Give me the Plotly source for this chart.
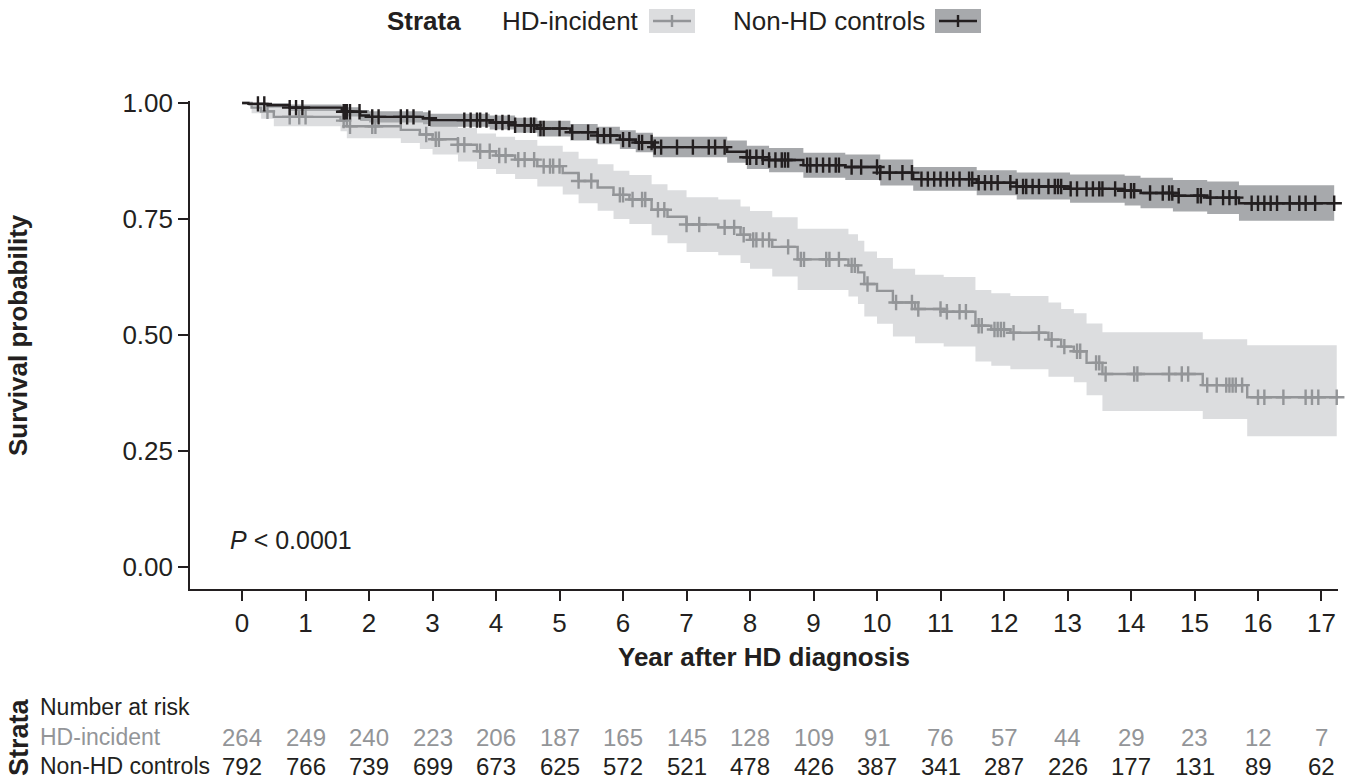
import numpy as np
import plotly.graph_objects as go

# ---------------- data ----------------
years = list(range(0, 18))
risk_hd = [264, 249, 240, 223, 206, 187, 165, 145, 128, 109, 91, 76, 57, 44, 29, 23, 12, 7]
risk_ctrl = [792, 766, 739, 699, 673, 625, 572, 521, 478, 426, 387, 341, 287, 226, 177, 131, 89, 62]

hd_time = [0, 0.15, 0.3, 0.5, 1.55, 1.65, 2.5, 2.8, 3.0, 3.4, 3.7, 4.0, 4.3, 4.65, 5.05, 5.3,
           5.6, 5.85, 6.1, 6.45, 6.7, 7.0, 7.5, 7.85, 8.0, 8.35, 8.75, 9.55, 9.7, 9.8, 10.0,
           10.25, 10.6, 11.05, 11.55, 11.8, 12.1, 12.7, 12.9, 13.1, 13.3, 13.55, 15.13, 15.83]
hd_surv = [1.0, 0.990, 0.982, 0.970, 0.962, 0.950, 0.942, 0.932, 0.922, 0.910, 0.896, 0.887,
           0.878, 0.864, 0.849, 0.832, 0.818, 0.802, 0.792, 0.770, 0.755, 0.738, 0.732, 0.716,
           0.705, 0.690, 0.663, 0.650, 0.635, 0.610, 0.595, 0.570, 0.556, 0.550, 0.520, 0.512,
           0.505, 0.490, 0.475, 0.465, 0.440, 0.416, 0.392, 0.366]
hd_upper = [1.0, 1.0, 0.997, 0.990, 0.985, 0.977, 0.970, 0.963, 0.955, 0.946, 0.934, 0.927,
            0.920, 0.908, 0.895, 0.880, 0.868, 0.854, 0.845, 0.825, 0.812, 0.797, 0.792, 0.777,
            0.767, 0.754, 0.729, 0.717, 0.703, 0.680, 0.666, 0.643, 0.630, 0.625, 0.597, 0.590,
            0.584, 0.570, 0.556, 0.547, 0.525, 0.506, 0.491, 0.478]
hd_lower = [1.0, 0.978, 0.966, 0.950, 0.939, 0.924, 0.914, 0.901, 0.889, 0.874, 0.858, 0.847,
            0.836, 0.820, 0.803, 0.784, 0.768, 0.750, 0.739, 0.715, 0.698, 0.679, 0.672, 0.655,
            0.643, 0.626, 0.597, 0.583, 0.567, 0.540, 0.524, 0.497, 0.482, 0.475, 0.443, 0.434,
            0.426, 0.410, 0.410, 0.398, 0.370, 0.336, 0.319, 0.282]
hd_end = 17.24
hd_censor = [0.4, 0.75, 0.9, 1.0, 1.6, 1.7, 2.05, 2.1, 2.9, 3.05, 3.1, 3.4, 3.5, 3.75, 3.9, 4.05,
             4.15, 4.35, 4.45, 4.6, 4.75, 4.85, 4.9, 5.0, 5.3, 5.5, 5.95, 6.0, 6.15, 6.3, 6.35,
             6.55, 6.65, 7.0, 7.2, 7.6, 7.75, 7.9, 8.05, 8.1, 8.2, 8.3, 8.6, 8.8, 8.85, 9.2, 9.25,
             9.4, 9.6, 9.65, 9.85, 10.3, 10.55, 10.65, 11.0, 11.1, 11.3, 11.4, 11.6, 11.65, 11.85,
             11.9, 11.95, 12.0, 12.15, 12.55, 12.75, 12.95, 13.15, 13.2, 13.45, 13.5, 13.6, 14.05,
             14.1, 14.6, 14.8, 14.9, 15.2, 15.35, 15.5, 15.55, 15.6, 15.65, 15.75, 16.0, 16.1,
             16.4, 16.75, 16.85, 16.95, 17.24]

ctrl_time = [0, 0.1, 0.4, 0.75, 1.57, 1.86, 2.0, 2.85, 2.96, 3.9, 4.3, 4.65, 5.17, 5.6, 5.95,
             6.2, 6.47, 7.64, 7.95, 8.3, 8.84, 9.5, 10.05, 10.57, 11.57, 12.2, 13.04, 13.9,
             14.15, 14.66, 15.2, 15.7]
ctrl_surv = [1.0, 0.998, 0.995, 0.990, 0.981, 0.973, 0.970, 0.967, 0.963, 0.958, 0.952, 0.945,
             0.937, 0.930, 0.921, 0.915, 0.905, 0.895, 0.883, 0.877, 0.866, 0.862, 0.850, 0.836,
             0.828, 0.820, 0.815, 0.811, 0.806, 0.800, 0.796, 0.784]
ctrl_upper = [1.0, 1.0, 1.0, 0.997, 0.991, 0.985, 0.982, 0.980, 0.977, 0.973, 0.968, 0.962,
              0.955, 0.949, 0.941, 0.936, 0.927, 0.919, 0.908, 0.903, 0.893, 0.889, 0.878,
              0.862, 0.855, 0.850, 0.846, 0.843, 0.839, 0.834, 0.831, 0.823]
ctrl_lower = [1.0, 0.994, 0.990, 0.983, 0.971, 0.961, 0.958, 0.954, 0.949, 0.943, 0.936, 0.928,
              0.919, 0.911, 0.901, 0.894, 0.883, 0.871, 0.858, 0.851, 0.839, 0.834, 0.822,
              0.811, 0.801, 0.792, 0.785, 0.779, 0.773, 0.766, 0.761, 0.746]
ctrl_end = 17.2
ctrl_censor = [0.25, 0.35, 0.75, 0.85, 0.95, 1.6, 1.62, 1.65, 1.7, 1.85, 2.05, 2.15, 2.5, 2.6,
               2.7, 2.95, 3.5, 3.6, 3.7, 3.75, 3.85, 4.0, 4.1, 4.2, 4.3, 4.45, 4.55, 4.6, 4.7,
               4.75, 5.0, 5.2, 5.45, 5.6, 5.7, 5.8, 6.0, 6.1, 6.25, 6.3, 6.45, 6.5, 6.6, 6.85,
               7.1, 7.35, 7.45, 7.6, 7.95, 8.0, 8.1, 8.2, 8.3, 8.4, 8.5, 8.55, 8.6, 8.9, 8.95,
               9.05, 9.15, 9.25, 9.35, 9.4, 9.6, 9.75, 10.0, 10.05, 10.2, 10.4, 10.55, 10.7,
               10.8, 10.9, 11.0, 11.1, 11.2, 11.3, 11.45, 11.5, 11.6, 11.7, 11.8, 11.9, 12.1,
               12.2, 12.3, 12.35, 12.45, 12.55, 12.7, 12.8, 12.85, 12.9, 13.05, 13.15, 13.3,
               13.4, 13.5, 13.55, 13.75, 13.9, 14.0, 14.05, 14.3, 14.5, 14.6, 14.65, 14.75,
               15.05, 15.1, 15.25, 15.45, 15.55, 15.65, 15.9, 16.0, 16.1, 16.2, 16.3, 16.5,
               16.65, 16.75, 16.9, 17.2]

# ---------------- style ----------------
FONT = "Liberation Sans, Arial, Helvetica, sans-serif"
INK = "#231f20"
HD_LINE = "#939598"
HD_BAND = "#dcdddf"
CT_LINE = "#231f20"
CT_BAND = "#a7a9ac"

W, H = 1346, 779
ML, MR, MT, MB = 190, 8, 101, 190
PW, PH = W - ML - MR, H - MT - MB


def px(x):
    return (x - ML) / PW


def py(y):
    return (H - MB - y) / PH


def step_ext(t, v, end):
    return list(t) + [end], list(v) + [v[-1]]


def surv_at(t, v, c):
    idx = np.searchsorted(np.array(t), np.array(c), side="right") - 1
    return list(np.array(v)[idx])


fig = go.Figure()


def add_band(t, up, lo, end, band_c):
    x, u = step_ext(t, up, end)
    _, l = step_ext(t, lo, end)
    fig.add_trace(go.Scatter(x=x, y=u, mode="lines", line=dict(width=0, shape="hv"),
                             hoverinfo="skip", showlegend=False))
    fig.add_trace(go.Scatter(x=x, y=l, mode="lines", line=dict(width=0, shape="hv"),
                             fill="tonexty", fillcolor=band_c, hoverinfo="skip",
                             showlegend=False))


def add_line(t, s, end, cens, line_c):
    x, y = step_ext(t, s, end)
    fig.add_trace(go.Scatter(x=x, y=y, mode="lines", line=dict(color=line_c, width=2.4, shape="hv"),
                             cliponaxis=False, showlegend=False))
    fig.add_trace(go.Scatter(x=cens, y=surv_at(t, s, cens), mode="markers", cliponaxis=False,
                             marker=dict(symbol="cross-thin", size=11,
                                         line=dict(color=line_c, width=2.4)),
                             showlegend=False))


add_band(hd_time, hd_upper, hd_lower, hd_end, HD_BAND)
add_band(ctrl_time, ctrl_upper, ctrl_lower, ctrl_end, CT_BAND)
add_line(hd_time, hd_surv, hd_end, hd_censor, HD_LINE)
add_line(ctrl_time, ctrl_surv, ctrl_end, ctrl_censor, CT_LINE)

annotations = []
shapes = []

# axis titles
annotations.append(dict(x=px(18), y=py(335), xref="paper", yref="paper",
                        text="<b>Survival probability</b>", textangle=-90, showarrow=False,
                        xanchor="center", yanchor="middle",
                        font=dict(size=26, color=INK, family=FONT)))
annotations.append(dict(x=0.5, y=py(657), xref="paper", yref="paper",
                        text="<b>Year after HD diagnosis</b>", showarrow=False,
                        xanchor="center", yanchor="middle",
                        font=dict(size=26, color=INK, family=FONT)))

# P value
annotations.append(dict(x=-0.22, y=0.058, xref="x", yref="y", text="<i>P</i> &lt; 0.0001",
                        showarrow=False, xanchor="left", yanchor="middle",
                        font=dict(size=25, color=INK, family=FONT)))

# legend
LEG_Y = 21
annotations.append(dict(x=px(463), y=py(LEG_Y), xref="paper", yref="paper", text="<b>Strata</b>",
                        showarrow=False, xanchor="right", yanchor="middle",
                        font=dict(size=26, color=INK, family=FONT)))
leg_items = [("HD-incident", 500, 649, HD_BAND, HD_LINE),
             ("Non-HD controls", 731, 935, CT_BAND, CT_LINE)]
for label, tx, sx, band, line in leg_items:
    annotations.append(dict(x=px(tx), y=py(LEG_Y), xref="paper", yref="paper", text=label,
                            showarrow=False, xanchor="left", yanchor="middle",
                            font=dict(size=26, color=INK, family=FONT)))
    shapes.append(dict(type="rect", xref="paper", yref="paper", x0=px(sx), x1=px(sx + 46),
                       y0=py(LEG_Y + 12), y1=py(LEG_Y - 12), fillcolor=band, line=dict(width=0)))
    shapes.append(dict(type="line", xref="paper", yref="paper", x0=px(sx + 4), x1=px(sx + 42),
                       y0=py(LEG_Y), y1=py(LEG_Y), line=dict(color=line, width=2.4)))
    shapes.append(dict(type="line", xref="paper", yref="paper", x0=px(sx + 23), x1=px(sx + 23),
                       y0=py(LEG_Y - 6), y1=py(LEG_Y + 6), line=dict(color=line, width=2.4)))

# risk table
annotations.append(dict(x=px(38), y=py(707), xref="paper", yref="paper", text="Number at risk",
                        showarrow=False, xanchor="left", yanchor="middle",
                        font=dict(size=23, color=INK, family=FONT)))
annotations.append(dict(x=px(38), y=py(737), xref="paper", yref="paper", text="HD-incident",
                        showarrow=False, xanchor="left", yanchor="middle",
                        font=dict(size=23, color=HD_LINE, family=FONT)))
annotations.append(dict(x=px(38), y=py(766), xref="paper", yref="paper", text="Non-HD controls",
                        showarrow=False, xanchor="left", yanchor="middle",
                        font=dict(size=23, color=INK, family=FONT)))
for yr, a, b in zip(years, risk_hd, risk_ctrl):
    annotations.append(dict(x=yr, y=py(737), xref="x", yref="paper", text=str(a),
                            showarrow=False, xanchor="center", yanchor="middle",
                            font=dict(size=24, color=HD_LINE, family=FONT)))
    annotations.append(dict(x=yr, y=py(766), xref="x", yref="paper", text=str(b),
                            showarrow=False, xanchor="center", yanchor="middle",
                            font=dict(size=24, color=INK, family=FONT)))
annotations.append(dict(x=px(19), y=py(737), xref="paper", yref="paper", text="<b>Strata</b>",
                        textangle=-90, showarrow=False, xanchor="center", yanchor="middle",
                        font=dict(size=27, color=INK, family=FONT)))

fig.update_layout(
    width=W, height=H,
    margin=dict(l=ML, r=MR, t=MT, b=MB, autoexpand=False),
    paper_bgcolor="white", plot_bgcolor="white",
    showlegend=False,
    font=dict(family=FONT, color=INK),
    annotations=annotations, shapes=shapes,
    xaxis=dict(range=[-0.82, 17.26], tickmode="array", tickvals=years,
               ticktext=[str(y) for y in years], showgrid=False, zeroline=False,
               showline=True, linecolor=INK, linewidth=1.6, ticks="outside", ticklen=10,
               tickwidth=2.2, tickcolor=INK, tickfont=dict(size=26, color=INK, family=FONT)),
    yaxis=dict(range=[-0.0474, 1.0043], tickmode="array", tickvals=[0, 0.25, 0.5, 0.75, 1.0],
               ticktext=["0.00", "0.25", "0.50", "0.75", "1.00"], showgrid=False,
               zeroline=False, showline=True, linecolor=INK, linewidth=1.6, ticks="outside",
               ticklen=10, tickwidth=2.2, tickcolor=INK,
               tickfont=dict(size=26, color=INK, family=FONT)),
)

fig.write_html("out.html", config={"displayModeBar": False},
               post_script="document.body.style.margin='0px';document.body.style.overflow='hidden';")
